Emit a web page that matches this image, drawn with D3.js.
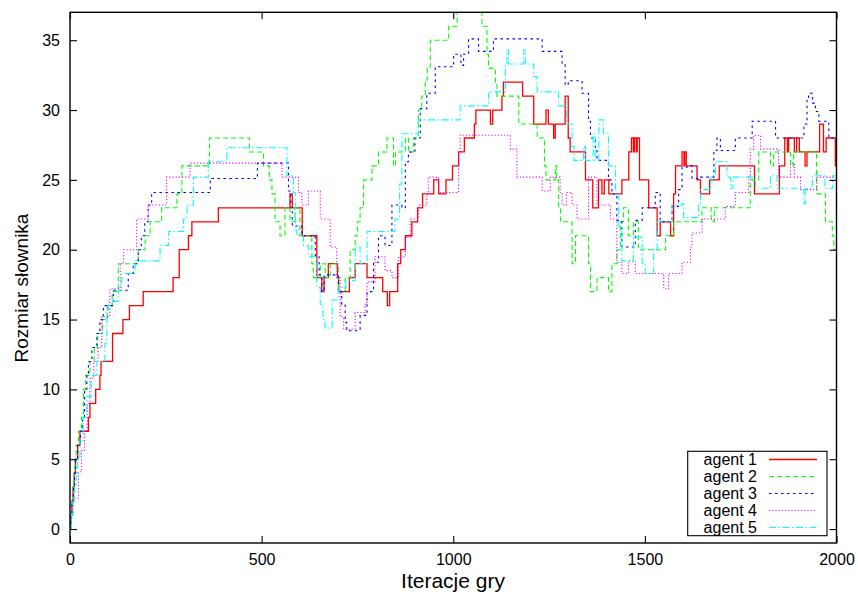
<!DOCTYPE html>
<html><head><meta charset="utf-8">
<script src="https://cdn.jsdelivr.net/npm/d3@7"></script>
<style>
body{margin:0;background:#fff}
svg{display:block}
text{font-family:"Liberation Sans",Arial,Helvetica,sans-serif;fill:#000}
</style>
</head><body>
<svg id="c" width="858" height="599"></svg>
<script>
// ---------------- data ----------------
const agentNames = ["agent 1","agent 2","agent 3","agent 4","agent 5"];
const xTicks = [0,500,1000,1500,2000];
const yTicks = [0,5,10,15,20,25,30,35];

// [iteration, dictionary size] change points (step after)
const agent1 = [[0,0],[2,1],[5,2],[8,3],[11,4],[14,5],[20,6],[26,7],[48,8],[52,9],[67,10],[78,11],[81,12],[111,14],[138,15],[155,16],[191,17],[269,18],[285,20],[309,21],[318,22],[387,23],[574,24],[580,23],[606,21],[644,18],[657,17],[663,18],[674,19],[698,18],[701,17],[729,18],[744,19],[775,18],[816,17],[828,16],[834,17],[855,19],[863,20],[875,21],[892,22],[907,23],[920,24],[949,25],[962,24],[981,25],[998,26],[1014,27],[1029,28],[1055,29],[1059,30],[1097,29],[1103,30],[1127,31],[1131,32],[1181,31],[1210,29],[1242,30],[1248,29],[1262,28],[1266,29],[1292,31],[1300,28],[1305,27],[1345,25],[1364,23],[1379,25],[1388,24],[1394,25],[1406,24],[1440,25],[1458,27],[1465,28],[1470,27],[1473,28],[1478,27],[1480,28],[1486,25],[1510,23],[1532,21],[1540,22],[1567,21],[1575,24],[1580,26],[1597,27],[1602,26],[1604,27],[1608,26],[1636,25],[1645,24],[1669,25],[1694,26],[1786,24],[1851,26],[1865,28],[1872,27],[1875,28],[1890,27],[1896,28],[1903,27],[1918,26],[1923,27],[1956,29],[1966,27],[1973,28],[1997,26],[2000,26]];
const agent2 = [[0,0],[3,1],[5,2],[8,3],[10,4],[13,5],[16,6],[22,7],[30,8],[35,10],[41,11],[52,12],[63,13],[72,14],[85,15],[98,16],[110,17],[126,19],[178,20],[196,21],[209,22],[239,23],[279,24],[292,26],[364,28],[468,27],[505,26],[520,25],[527,24],[535,22],[548,21],[561,23],[574,22],[587,23],[600,21],[631,19],[635,18],[653,19],[666,18],[679,19],[700,17],[718,18],[731,20],[744,21],[750,22],[757,23],[766,25],[788,26],[805,27],[827,28],[844,26],[849,27],[875,28],[883,27],[896,28],[909,30],[918,31],[927,32],[932,33],[940,35],[988,36],[1010,37.5],[1075,36],[1088,34],[1092,33],[1110,32],[1114,31],[1171,29],[1219,28],[1238,26],[1242,25],[1266,26],[1269,25],[1275,23],[1280,22],[1310,19],[1319,21],[1353,19],[1358,17],[1375,18],[1405,17],[1414,19],[1427,20],[1436,22],[1444,23],[1457,21],[1470,22],[1483,20],[1554,21],[1575,22],[1649,23],[1673,22],[1681,23],[1775,25],[1797,27],[1828,26],[1836,27],[1880,26],[1888,27],[1948,24],[1971,22],[1989,21],[1993,20],[2000,20]];
const agent3 = [[0,0],[2,1],[5,2],[9,3],[12,4],[15,5],[20,6],[27,7],[33,8],[38,10],[44,11],[48,12],[57,13],[70,14],[78,15],[87,16],[113,17.1],[152,18.3],[165,19],[178,20],[186,21],[195,22],[204,23.2],[213,24.1],[366,25.1],[489,26.2],[570,24.2],[576,23],[580,21.7],[605,21],[640,19.5],[650,18.2],[657,17],[663,18.2],[690,18.2],[700,17],[709,16.1],[718,14.8],[722,14.2],[757,15.3],[775,17],[792,19.1],[805,21],[822,20.3],[840,23.2],[866,23],[875,26.3],[883,27],[900,28],[914,30.1],[931,31.2],[953,33.1],[1001,34],[1020,33.2],[1027,34],[1040,35.1],[1066,34.2],[1105,35.1],[1232,34.2],[1284,33.3],[1292,31.8],[1300,32.1],[1336,31.2],[1353,29.2],[1358,28],[1371,27.1],[1375,26.4],[1405,25],[1414,24],[1427,22.1],[1440,20.2],[1475,22.1],[1493,23],[1527,24.1],[1540,22],[1571,23.1],[1588,24.3],[1597,25.9],[1610,26],[1623,25.1],[1645,25.2],[1680,27.1],[1688,28],[1697,27.1],[1736,28],[1780,29.2],[1841,28],[1915,29],[1923,30.9],[1927,31.2],[1937,30.5],[1945,29.9],[1954,29.2],[1980,28],[2000,28]];
const agent4 = [[0,0],[3,1],[8,2.2],[22,4.1],[30,5.6],[38,7],[45,9],[52,10.8],[62,12],[73,13],[83,15.2],[104,17.2],[131,19],[140,20],[174,22.2],[204,23.2],[252,25.2],[313,26.2],[553,25.2],[596,24.1],[605,23.2],[622,24.2],[653,22.2],[679,20.2],[696,18],[705,15.2],[714,14.3],[744,15.5],[770,16.1],[775,17.7],[796,19.5],[822,18.5],[840,18],[857,19.5],[875,20.9],[888,22.2],[910,23.2],[931,24],[935,25.2],[962,24.1],[1014,26.9],[1018,28.2],[1149,27.2],[1166,25.2],[1232,24.2],[1253,25.2],[1279,24.1],[1284,23.2],[1295,24.1],[1310,23.2],[1323,22.2],[1353,25.2],[1375,23.2],[1410,22.2],[1427,19.1],[1440,18.3],[1457,19.2],[1475,18.3],[1549,17.2],[1562,18.3],[1597,19.1],[1619,20.2],[1623,21.2],[1649,22.2],[1710,23.1],[1736,24.1],[1771,25.2],[1775,27.2],[1784,28.2],[1802,27.2],[1849,25.2],[1880,26.2],[1890,25.2],[1906,24.3],[1949,25.2],[2000,25.2]];
const agent5 = [[0,0],[4,1],[8,2],[12,3],[16,4],[20,5],[26,6.3],[34,8],[44,9.5],[55,11],[70,12],[91,13.3],[96,15.7],[100,16.3],[126,17.1],[135,18.3],[170,19.2],[235,20.3],[257,21.3],[296,22.2],[305,23.2],[322,25.2],[361,26.3],[409,27.3],[566,25.3],[583,24.1],[588,21.4],[592,21],[609,20.3],[622,19.5],[644,17.3],[653,16.1],[660,15],[665,14.4],[684,16.4],[700,17.3],[720,17.8],[744,20.2],[757,19],[775,21.3],[848,22.2],[860,24.7],[866,28.3],[909,29.3],[1018,30.3],[1092,31.3],[1136,33.3],[1140,34.3],[1144,33.3],[1184,34.3],[1188,33.3],[1210,32.4],[1219,31.3],[1275,30.3],[1296,29],[1310,27.4],[1315,26.4],[1340,27.4],[1345,26.4],[1365,28.3],[1370,26.4],[1380,29.3],[1392,28.3],[1405,26],[1423,24],[1432,21.6],[1440,19.2],[1470,20.9],[1493,19],[1501,18.3],[1523,20],[1532,22],[1571,23.2],[1597,23.3],[1601,22.3],[1627,22.3],[1640,23.3],[1645,24.3],[1672,25.3],[1684,26.3],[1714,25.2],[1723,24.4],[1730,25.2],[1775,25.2],[1789,24.4],[1828,25.3],[1845,24.4],[1915,23.3],[1919,24.4],[1937,25.3],[1960,25.3],[1970,24.4],[1990,25.3],[2000,24.4]];

const seriesData = [agent1, agent2, agent3, agent4, agent5];
const colors = ["#ff0000","#00ff00","#0000ff","#ff00ff","#00ffff"];
const dashes = [null,"5,3","2.5,3.5","1.2,2","7,2.5,1.5,2.5"];

// ---------------- chart ----------------
const svg = d3.select("#c");
const L=70, R=836.5, T=12.3, B=543;
const x = d3.scaleLinear().domain([0,2000]).range([L,R]);
const y = d3.scaleLinear().domain([-1,37]).range([B,T]);

svg.append("defs").append("clipPath").attr("id","clip")
  .append("rect").attr("x",L).attr("y",T).attr("width",R-L).attr("height",B-T);

const line = d3.line().x(d=>x(d[0])).y(d=>y(d[1])).curve(d3.curveStepAfter);

const g = svg.append("g").attr("clip-path","url(#clip)");
seriesData.forEach((s,i)=>{
  g.append("path").attr("d",line(s)).attr("fill","none")
   .attr("stroke",colors[i]).attr("stroke-width", i===0?1.3:1.1)
   .attr("stroke-dasharray",dashes[i]);
});

// axes
const fs = 16;
const axL = svg.append("g").attr("transform",`translate(${L},0)`)
  .call(d3.axisLeft(y).tickValues(yTicks).tickSize(-7).tickPadding(10).tickFormat(d3.format("d")));
const axR = svg.append("g").attr("transform",`translate(${R},0)`)
  .call(d3.axisRight(y).tickValues(yTicks).tickSize(-7).tickFormat(""));
const axB = svg.append("g").attr("transform",`translate(0,${B})`)
  .call(d3.axisBottom(x).tickValues(xTicks).tickSize(-7).tickPadding(10.5).tickFormat(d3.format("d")));
const axT = svg.append("g").attr("transform",`translate(0,${T})`)
  .call(d3.axisTop(x).tickValues(xTicks).tickSize(-7).tickFormat(""));
[axL,axR,axB,axT].forEach(a=>{
  a.select(".domain").remove();
  a.selectAll("line").attr("stroke","#000").attr("stroke-width",1.1);
  a.selectAll("text").attr("font-size",fs).attr("font-family","Liberation Sans, Arial, sans-serif").attr("fill","#000");
});

svg.append("rect").attr("x",L).attr("y",T).attr("width",R-L).attr("height",B-T)
  .attr("fill","none").attr("stroke","#000").attr("stroke-width",1.4);

// titles
svg.append("text").attr("x",453).attr("y",588).attr("text-anchor","middle")
  .attr("font-size",21).text("Iteracje gry");
svg.append("text").attr("transform","translate(28,288) rotate(-90)").attr("text-anchor","middle")
  .attr("font-size",19).text("Rozmiar słownika");

// legend
const lg = svg.append("g");
lg.append("rect").attr("x",687.7).attr("y",451.3).attr("width",139.3).attr("height",84.4)
  .attr("fill","#fff").attr("stroke","#000").attr("stroke-width",1.1);
agentNames.forEach((n,i)=>{
  const yy = 459.5 + i*17;
  lg.append("text").attr("x",757).attr("y",yy).attr("dy","0.35em").attr("text-anchor","end")
    .attr("font-size",fs).text(n);
  lg.append("line").attr("x1",769).attr("x2",817).attr("y1",yy).attr("y2",yy)
    .attr("stroke",colors[i]).attr("stroke-width", i===0?1.3:1.1).attr("stroke-dasharray",dashes[i]);
});
</script>
</body></html>
